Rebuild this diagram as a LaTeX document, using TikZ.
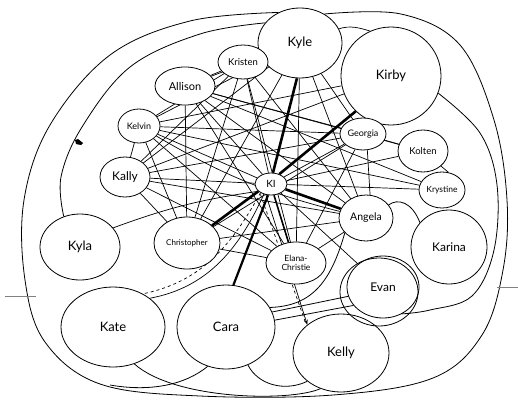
\documentclass[tikz,border=0pt]{standalone}
\usepackage{fontspec}
\setmainfont{Lato}
\usetikzlibrary{shapes.geometric,arrows.meta}
\pgfdeclarelayer{bg}
\pgfsetlayers{bg,main}
\begin{document}
\begin{tikzpicture}[x=1pt,y=-1pt,
  person/.style={draw, ellipse, fill=white, inner sep=0pt, line width=0.8pt},
  link/.style={line width=0.7pt},
  strong/.style={line width=2.6pt},
  loop/.style={line width=0.8pt},
  fs/.style={font=\fontsize{#1}{#1}\selectfont}]
\useasboundingbox (0,0) rectangle (518,399);

% people
\node[person, minimum width=84, minimum height=70, fs=13] (kyle) at (300,43) {Kyle};
\node[person, minimum width=100, minimum height=98, fs=13] (kirby) at (391,76) {Kirby};
\node[person, minimum width=50, minimum height=34, fs=9.5] (kristen) at (243,62) {Kristen};
\node[person, minimum width=60, minimum height=38, fs=11] (allison) at (185,86) {Allison};
\node[person, minimum width=42, minimum height=34, fs=9] (kelvin) at (139,126) {Kelvin};
\node[person, minimum width=50, minimum height=40, fs=12] (kally) at (125,177) {Kally};
\node[person, minimum width=46, minimum height=32, fs=9] (georgia) at (363,134) {Georgia};
\node[person, minimum width=50, minimum height=42, fs=9.5] (kolten) at (423,151) {Kolten};
\node[person, minimum width=46, minimum height=36, fs=8.5] (krystine) at (442,190) {Krystine};
\node[person, minimum width=32, minimum height=22, fs=10] (ki) at (271,184) {KI};
\node[person, minimum width=54, minimum height=46, fs=10.5] (angela) at (366,218) {Angela};
\node[person, minimum width=76, minimum height=74, fs=12] (karina) at (449,247) {Karina};
\node[person, minimum width=80, minimum height=66, fs=13] (kyla) at (80,247) {Kyla};
\node[person, minimum width=66, minimum height=52, fs=8] (christopher) at (187,243) {Christopher};
\node[person, minimum width=60, minimum height=42, fs=8.5, align=center] (elana) at (296,263) {Elana-\\Christie};
\node[person, minimum width=72, minimum height=62, fs=12] (evan) at (383,287) {Evan};
\node[person, minimum width=104, minimum height=80, fs=13] (kate) at (113,327) {Kate};
\node[person, minimum width=98, minimum height=84, fs=13] (cara) at (226,327) {Cara};
\node[person, minimum width=96, minimum height=78, fs=13] (kelly) at (341,353) {Kelly};

% second stroke round Evan
\draw[line width=0.8pt] (379,292) ellipse [x radius=39, y radius=34];

\begin{pgfonlayer}{bg}
% large enclosing loops
\draw[loop] plot[smooth, tension=0.6] coordinates {(kyle.125) (190,21) (110,55) (50,125) (24,200) (25,280) (45,342) (100,384) (200,396) (333,395) (433,378) (482,335) (503,270) (507,200) (494,120) (460,45) (401,14) (kyle.50)};
\draw[loop] plot[smooth, tension=0.6] coordinates {(kyle.150) (200,34) (130,67) (82,127) (61,177) (kyla.118)};
\draw[loop] plot[smooth, tension=0.6] coordinates {(kirby.-20) (480,133) (497,185) (494,250) (472,296) (430,310) (evan.-55)};
\draw[loop] (kate.-60) .. controls (175,400) and (290,402) .. (kelly.-120);
\draw[loop] (cara.-115) .. controls (185,385) and (150,392) .. (110,385);
\draw[loop] (cara.-60) .. controls (258,385) and (285,392) .. (kelly.-140);
\draw[loop] (cara.18) -- (evan.195);
\draw[loop] (cara.8) -- (evan.212);
\draw[loop] (angela.215) .. controls (330,285) and (310,306) .. (cara.24);
\draw[loop] (angela.30) .. controls (398,198) and (412,202) .. (karina.140);
\draw[link] (kyle.20) .. controls (350,25) and (360,28) .. (kirby.115);

% web of thin ties
\foreach \a/\b in {kristen/allison, kristen/ki, kristen/christopher, kristen/elana, kristen/angela, kristen/kelvin,
  allison/ki, allison/georgia, allison/angela, allison/christopher, allison/elana, allison/krystine, allison/kolten,
  kelvin/kally, kelvin/georgia, kelvin/ki, kelvin/christopher, kelvin/elana, kelvin/kyle, kelvin/krystine, kelvin/kirby,
  kally/ki, kally/angela, kally/georgia, kally/christopher, kally/elana, kally/kristen, kally/kirby,
  kyle/allison, kyle/christopher, kyle/elana, kyle/angela, kyle/georgia, kyle/kally,
  georgia/ki, georgia/christopher, georgia/elana, georgia/kolten,
  kolten/ki, krystine/ki, angela/christopher, angela/elana, christopher/elana, ki/evan}
  \draw[link] (\a) -- (\b);
\draw[link] (kelvin) to[bend right=8] (angela);
\draw[link] (georgia.-75) -- (angela.80);
\draw[link] (kolten.-40) -- (krystine.70);
\draw[link] (kyla.30) to[bend left=6] (ki.-150);

% KI to Kate and to Kelly: paired strokes, one dashed
\draw[link] (ki.-125) .. controls (238,252) and (205,288) .. (kate.38);
\draw[link, dashed] (ki.-140) .. controls (230,248) and (200,282) .. (kate.48);
\draw[link, -{Stealth[length=5pt]}] (ki.-115) -- (kelly.140);
\draw[link, dashed] ([xshift=-4pt]ki.-122) -- ([xshift=-5pt]kelly.135);

% strongest ties from KI
\draw[strong] (ki.80) -- (kyle.-95);
\draw[strong] (ki.50) -- (kirby.225);
\draw[strong] (ki.-20) -- (angela.160);
\draw[strong] (ki.-150) -- (christopher.35);
\draw[line width=2.2pt] (ki.-105) -- (cara.80);
\draw[line width=1.6pt] (ki.-75) -- (elana.110);
\end{pgfonlayer}

% stray pencil marks
\fill (75,140) -- (78,139) -- (83,143) -- (81,145) -- (76,144) -- cycle;
\draw[gray, line width=0.6pt] (5,296) -- (36,296);
\draw[gray, line width=0.6pt] (497,287) -- (518,287);
\end{tikzpicture}
\end{document}
